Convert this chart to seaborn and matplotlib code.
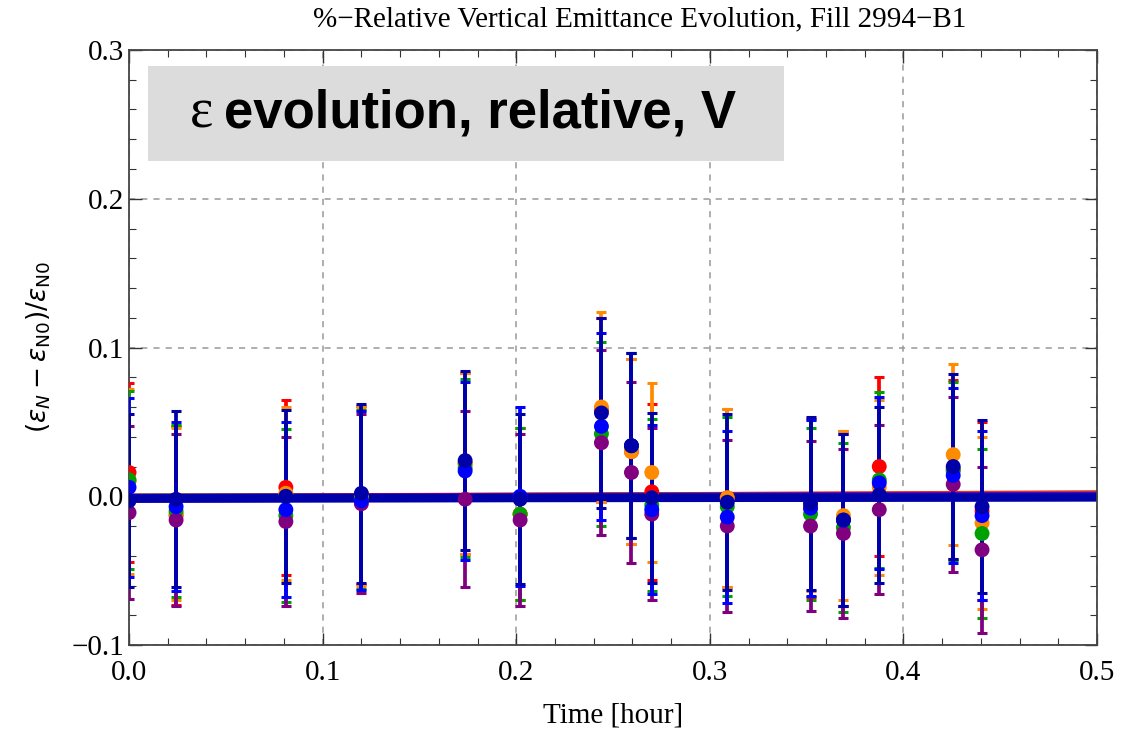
import numpy as np
import pandas as pd
import matplotlib
matplotlib.use("Agg")
import matplotlib.pyplot as plt
from matplotlib.ticker import MultipleLocator, FuncFormatter
import seaborn as sns

# measurement times [hour]
times = [0.0, 0.0243, 0.081, 0.12, 0.1736, 0.202, 0.244, 0.2595, 0.270,
         0.309, 0.352, 0.369, 0.3875, 0.4257, 0.4406]

# relative emittance change per bunch group
red = [0.016, -0.013, 0.006, 0.001, 0.022, -0.012, 0.058, 0.030, 0.003,
       -0.001, -0.008, -0.015, 0.020, 0.018, -0.010]
red_err = [0.060, 0.060, 0.059, 0.060, 0.061, 0.058, 0.062, 0.062, 0.059,
           0.060, 0.060, 0.059, 0.060, 0.060, 0.060]
orange = [0.010, -0.012, 0.002, 0.000, 0.022, -0.012, 0.060, 0.030, 0.016,
          -0.001, -0.006, -0.013, 0.006, 0.028, -0.018]
orange_err = [0.062, 0.058, 0.058, 0.060, 0.061, 0.058, 0.064, 0.062, 0.060,
              0.060, 0.058, 0.057, 0.059, 0.061, 0.058]
green = [0.011, -0.010, -0.013, -0.002, 0.019, -0.012, 0.042, 0.034, -0.006,
         -0.007, -0.012, -0.021, 0.011, 0.017, -0.025]
green_err = [0.060, 0.058, 0.058, 0.060, 0.060, 0.058, 0.062, 0.062, 0.058,
             0.060, 0.058, 0.057, 0.059, 0.060, 0.057]
purple = [-0.011, -0.016, -0.017, -0.005, -0.002, -0.016, 0.036, 0.016, -0.012,
          -0.020, -0.020, -0.025, -0.009, 0.008, -0.036]
purple_err = [0.058, 0.058, 0.057, 0.060, 0.059, 0.058, 0.062, 0.061, 0.058,
              0.058, 0.057, 0.057, 0.057, 0.059, 0.056]
blue = [0.006, -0.007, -0.009, -0.003, 0.017, 0.000, 0.047, 0.034, -0.009,
        -0.014, -0.008, -0.016, 0.009, 0.014, -0.013]
blue_err = [0.060, 0.057, 0.059, 0.060, 0.060, 0.060, 0.063, 0.062, 0.057,
            0.058, 0.059, 0.058, 0.058, 0.059, 0.057]
navy = [-0.003, -0.002, 0.000, 0.002, 0.024, -0.002, 0.056, 0.034, -0.001,
        -0.004, -0.005, -0.016, 0.001, 0.020, -0.007]
navy_err = [0.058, 0.059, 0.058, 0.060, 0.060, 0.057, 0.064, 0.062, 0.057,
            0.059, 0.058, 0.058, 0.059, 0.062, 0.058]

# linear fit lines (value at t=0 and t=0.5)
fit_t = [0.0, 0.5]
fit_start = [-0.0015, -0.001, -0.001, -0.001, -0.0015, -0.0015]
fit_end = [0.0012, 0.0006, 0.0002, 0.0004, -0.0004, -0.0008]

names = ["red", "orange", "green", "purple", "blue", "navy"]
colors = {"red": "#ff0000", "orange": "#ff8c00", "green": "#00a000",
          "purple": "#800080", "blue": "#0000ff", "navy": "#0000a8"}
values = [red, orange, green, purple, blue, navy]
errors = [red_err, orange_err, green_err, purple_err, blue_err, navy_err]

rows = []
for n, v in zip(names, values):
    for t, y in zip(times, v):
        rows.append({"time": t, "rel": y, "group": n})
df = pd.DataFrame(rows)

sns.set_style("ticks")
plt.rcParams["font.family"] = ["Liberation Serif", "DejaVu Serif"]
plt.rcParams["mathtext.fontset"] = "dejavusans"
plt.rcParams["text.color"] = "black"
plt.rcParams["axes.labelcolor"] = "black"
plt.rcParams["xtick.labelcolor"] = "black"
plt.rcParams["ytick.labelcolor"] = "black"

fig = plt.figure(figsize=(11.29, 7.33), dpi=100)
ax = fig.add_axes([0.1143, 0.12, 0.8574, 0.8118])

# fit lines
for i, n in enumerate(names):
    ax.plot(fit_t, [fit_start[i], fit_end[i]], color=colors[n], lw=6,
            solid_capstyle="butt", zorder=2)

# error bars
for n, v, e in zip(names, values, errors):
    ax.errorbar(times, v, yerr=e, fmt="none", ecolor=colors[n], elinewidth=2.7,
                capsize=3.5, capthick=2.2, zorder=3)

# points
sns.scatterplot(data=df, x="time", y="rel", hue="group", hue_order=names,
                palette=colors, s=115, edgecolor="none", legend=False,
                ax=ax, zorder=4)

fmt = FuncFormatter(lambda v, p: f"{v:.1f}".replace("-", "\u2212"))
ax.set_xlim(0, 0.5)
ax.set_ylim(-0.1, 0.3)
ax.xaxis.set_major_locator(MultipleLocator(0.1))
ax.xaxis.set_minor_locator(MultipleLocator(0.02))
ax.yaxis.set_major_locator(MultipleLocator(0.1))
ax.yaxis.set_minor_locator(MultipleLocator(0.02))
ax.xaxis.set_major_formatter(fmt)
ax.yaxis.set_major_formatter(fmt)
ax.tick_params(which="both", direction="in", top=True, right=True,
               labelsize=21, color="#333333")
ax.tick_params(which="major", length=9, width=1.0)
ax.tick_params(which="minor", length=5, width=0.8)
ax.tick_params(axis="x", which="major", pad=11)
ax.grid(which="major", linestyle=(0, (4, 4)), color="#999999", lw=1.1)
for s in ax.spines.values():
    s.set_color("#444444")
    s.set_linewidth(1.3)

ax.set_xlabel("Time [hour]", fontsize=21, labelpad=12)
ax.set_ylabel(r"$(\epsilon_N-\epsilon_{\mathrm{N0}})/\epsilon_{\mathrm{N0}}$",
              fontsize=19, labelpad=13)
fig.text(640 / 1129, 1 - 19 / 733,
         "%\u2212Relative Vertical Emittance Evolution, Fill 2994\u2212B1",
         ha="center", va="center", fontsize=21)

# label box
fig.patches.append(plt.Rectangle((148 / 1129, 1 - 161 / 733), 636 / 1129, 95 / 733,
                                 transform=fig.transFigure, facecolor="#dcdcdc",
                                 edgecolor="none", zorder=5))
fig.text(202 / 1129, 1 - 114 / 733, "\u03b5", ha="center", va="center",
         fontsize=40, family=["Liberation Serif"], zorder=6)
fig.text(224 / 1129, 1 - 113 / 733, "evolution, relative, V", ha="left", va="center",
         fontsize=38, fontweight="bold", family=["Liberation Sans"], zorder=6)

fig.savefig("out.png", dpi=100)
